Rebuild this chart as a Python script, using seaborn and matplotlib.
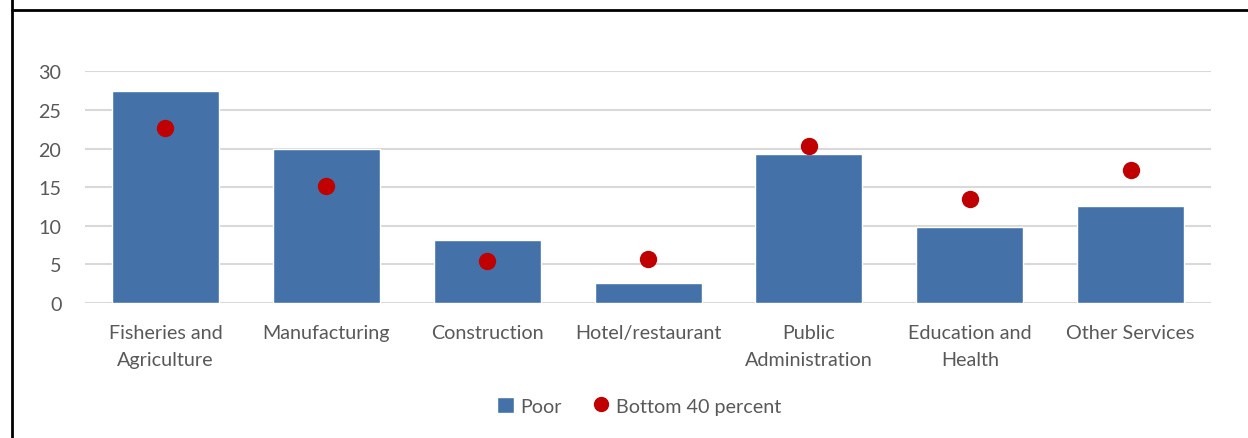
import matplotlib
matplotlib.use('Agg')
import matplotlib.pyplot as plt
import seaborn as sns
from matplotlib.lines import Line2D
from matplotlib.patches import Patch

categories = ['Fisheries and\nAgriculture', 'Manufacturing', 'Construction', 'Hotel/restaurant',
              'Public\nAdministration', 'Education and\nHealth', 'Other Services']
poor = [27.4, 20.0, 8.2, 2.6, 19.3, 9.9, 12.5]
bottom40 = [22.7, 15.2, 5.4, 5.7, 20.3, 13.5, 17.2]

bar_color = '#4472A8'
dot_color = '#C00000'
text_color = '#595959'

sns.set_style('white')
plt.rcParams['font.family'] = ['Lato', 'DejaVu Sans']

fig = plt.figure(figsize=(12.48, 4.39), dpi=100)
ax = fig.add_axes([0.0681, 0.3075, 0.9023, 0.5278])

sns.barplot(x=categories, y=poor, color=bar_color, width=0.665, ax=ax, saturation=1, zorder=2)
sns.stripplot(x=categories, y=bottom40, color=dot_color, jitter=False, size=12.5, ax=ax, zorder=3)

ax.set_ylim(0, 30)
ax.set_xlim(-0.5, 6.5)
ax.set_yticks(range(0, 31, 5))
ax.yaxis.grid(True, color='#D9D9D9', linewidth=1.5, zorder=0)
ax.set_axisbelow(True)
for s in ax.spines.values():
    s.set_visible(False)
ax.tick_params(axis='both', length=0, labelsize=14.2, labelcolor=text_color)
ax.tick_params(axis='y', pad=17)
ax.tick_params(axis='x', pad=15)
for lab in ax.get_xticklabels():
    lab.set_linespacing(1.7)

handles = [Patch(facecolor=bar_color, label='Poor'),
           Line2D([], [], marker='o', linestyle='none', markersize=10, color=dot_color, label='Bottom 40 percent')]
leg = fig.legend(handles=handles, loc='center', bbox_to_anchor=(0.512, 0.073), ncol=2, frameon=False,
                 fontsize=14.2, handlelength=0.85, handleheight=0.85, handletextpad=0.3, columnspacing=1.6)
for t in leg.get_texts():
    t.set_color(text_color)

# frame lines around the figure box
fig.add_artist(Line2D([11.5 / 1248, 11.5 / 1248], [0, 1], color='black', linewidth=2, transform=fig.transFigure))
fig.add_artist(Line2D([11.5 / 1248, 1], [1 - 10.5 / 439, 1 - 10.5 / 439], color='black', linewidth=2,
                      transform=fig.transFigure))

fig.savefig('out.png', dpi=100)
